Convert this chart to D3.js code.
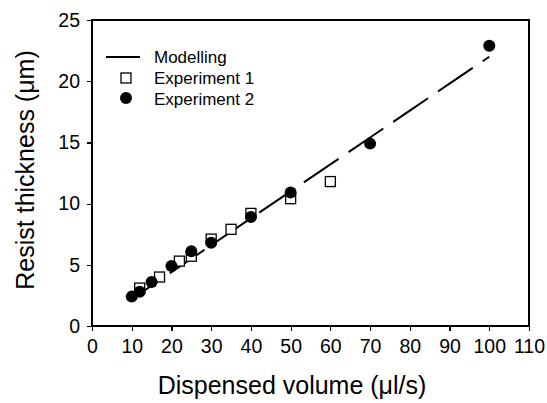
<!DOCTYPE html>
<head>
  <meta charset="utf-8">
  <script src="https://d3js.org/d3.v7.min.js"></script>
  <style>
    body { margin: 0; background: #fff; }
    text { font-family: "Liberation Sans", Arial, sans-serif; fill: #000; }
    .axis path, .axis line { fill: none; stroke: #000; stroke-width: 1.2px; shape-rendering: crispEdges; }
    .axis text { font-size: 19.5px; }
    .frame { fill: none; stroke: #000; stroke-width: 1.2px; shape-rendering: crispEdges; }
    .model { fill: none; stroke: #000; stroke-width: 2px; }
    .label { font-size: 25px; }
    .legend text { font-size: 17px; }
  </style>
</head>
<body>
<div id="chart"></div>
<script>
// Modelling curve
var modelX = [10, 20, 30, 40, 50, 60, 70, 80, 90, 100];
var modelY = [2.2, 4.4, 6.6, 8.8, 11.0, 13.2, 15.4, 17.6, 19.8, 22.0];

// Experiment 1 (open squares)
var exp1X = [12, 17, 22, 25, 30, 35, 40, 50, 60];
var exp1Y = [3.1, 4.0, 5.3, 5.7, 7.1, 7.9, 9.2, 10.4, 11.8];

// Experiment 2 (filled circles)
var exp2X = [10, 12, 15, 20, 25, 30, 40, 50, 70, 100];
var exp2Y = [2.4, 2.8, 3.6, 4.9, 6.1, 6.8, 8.9, 10.9, 14.9, 22.9];

var xTicks = [0, 10, 20, 30, 40, 50, 60, 70, 80, 90, 100, 110];
var yTicks = [0, 5, 10, 15, 20, 25];

var margin = {top: 20, right: 18, bottom: 77, left: 92},
    width = 547 - margin.left - margin.right,
    height = 403 - margin.top - margin.bottom;

var svg = d3.select("#chart").append("svg")
    .attr("width", 547)
    .attr("height", 403)
  .append("g")
    .attr("transform", "translate(" + margin.left + "," + margin.top + ")");

var x = d3.scaleLinear().domain([0, 110]).range([0, width]);
var y = d3.scaleLinear().domain([0, 25]).range([height, 0]);

// box
svg.append("rect")
    .attr("class", "frame")
    .attr("width", width)
    .attr("height", height);

svg.append("g")
    .attr("class", "axis")
    .attr("transform", "translate(0," + height + ")")
    .call(d3.axisBottom(x).tickValues(xTicks).tickSize(5).tickSizeOuter(0).tickPadding(8));

svg.append("g")
    .attr("class", "axis")
    .call(d3.axisLeft(y).tickValues(yTicks).tickSize(5).tickSizeOuter(0).tickPadding(7));

// axis titles
svg.append("text")
    .attr("class", "label")
    .attr("x", 200)
    .attr("y", height + 68)
    .attr("text-anchor", "middle")
    .text("Dispensed volume (\u03bcl/s)");

svg.append("text")
    .attr("class", "label")
    .attr("transform", "translate(-58," + (height / 2 - 3) + ") rotate(-90)")
    .attr("text-anchor", "middle")
    .text("Resist thickness (\u03bcm)");

// modelling line, long dashes lined up so the pattern ends with a short dash
var line = d3.line()
    .x(function(d) { return x(d[0]); })
    .y(function(d) { return y(d[1]); });

var model = svg.append("path")
    .datum(d3.zip(modelX, modelY))
    .attr("class", "model")
    .attr("d", line);

var L = model.node().getTotalLength(),
    dash = 42, gap = 12, period = dash + gap;
model.attr("stroke-dasharray", dash + "," + gap)
    .attr("stroke-dashoffset", ((-(L - 8) % period) + period) % period);

// experiment 1
svg.selectAll(".sq")
    .data(d3.zip(exp1X, exp1Y))
  .enter().append("rect")
    .attr("class", "sq")
    .attr("x", function(d) { return x(d[0]) - 5; })
    .attr("y", function(d) { return y(d[1]) - 5; })
    .attr("width", 10)
    .attr("height", 10)
    .style("fill", "#fff")
    .style("stroke", "#000")
    .style("stroke-width", 1.3);

// experiment 2
svg.selectAll(".dot")
    .data(d3.zip(exp2X, exp2Y))
  .enter().append("circle")
    .attr("class", "dot")
    .attr("cx", function(d) { return x(d[0]); })
    .attr("cy", function(d) { return y(d[1]); })
    .attr("r", 6)
    .style("fill", "#000");

// legend
var legend = svg.append("g")
    .attr("class", "legend")
    .attr("transform", "translate(14,37)");

legend.append("line")
    .attr("x1", 0).attr("x2", 34)
    .attr("y1", 0).attr("y2", 0)
    .style("stroke", "#000")
    .style("stroke-width", 2);

legend.append("rect")
    .attr("x", 15).attr("y", 16)
    .attr("width", 10).attr("height", 10)
    .style("fill", "#fff")
    .style("stroke", "#000")
    .style("stroke-width", 1.3);

legend.append("circle")
    .attr("cx", 20).attr("cy", 41)
    .attr("r", 6)
    .style("fill", "#000");

var names = ["Modelling", "Experiment 1", "Experiment 2"];
legend.selectAll(".lt")
    .data(names)
  .enter().append("text")
    .attr("class", "lt")
    .attr("x", 48)
    .attr("y", function(d, i) { return i * 21 + 6; })
    .text(function(d) { return d; });
</script>
</body>
